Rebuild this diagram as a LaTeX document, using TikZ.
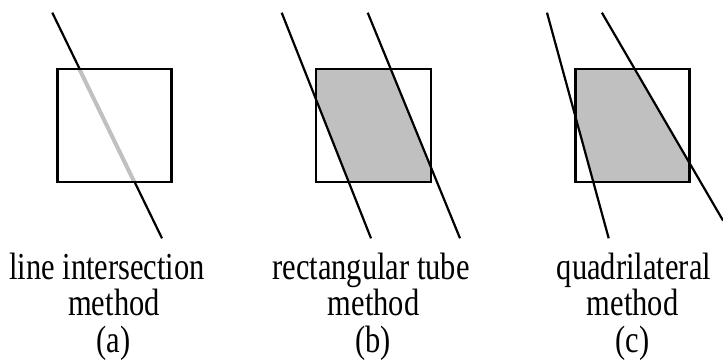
\documentclass[tikz,border=0pt]{standalone}
\usepackage{graphicx}
\usepackage{fontspec}
\setmainfont{Liberation Serif}
\definecolor{shadegray}{RGB}{192,192,192}
\newcommand{\tallx}[1]{\scalebox{1}[1.25]{#1}}
\begin{document}
\begin{tikzpicture}[x=1pt,y=-1pt]
\useasboundingbox (0,0) rectangle (723,361);
\tikzset{
  sq/.style={draw=black, line width=2.5pt},
  ln/.style={draw=black, line width=2.2pt},
  lbl/.style={font=\fontsize{30.5}{37}\selectfont, anchor=base, inner sep=0pt}
}
% panel (a)
\draw[ln] (52.3,12.7) -- (162,238.3);
\draw[shadegray, line width=4pt] (79.3,69) -- (134.3,182);
\draw[sq] (57.5,69) rectangle (171.5,182);
% panel (b)
\begin{scope}
\clip (316,69) rectangle (431,182);
\fill[shadegray] (281.7,12.7) -- (367.7,12.7) -- (460,238.3) -- (371,238.3) -- cycle;
\end{scope}
\draw[sq] (316,69) rectangle (431,182);
\draw[ln] (281.7,12.7) -- (371,238.3);
\draw[ln] (367.7,12.7) -- (460,238.3);
% panel (c)
\begin{scope}
\clip (575.5,69) rectangle (689.5,182);
\fill[shadegray] (547,12.7) -- (601.9,12.7) -- (723,220.5) -- (608.7,238.3) -- cycle;
\end{scope}
\draw[sq] (575.5,69) rectangle (689.5,182);
\draw[ln] (547,12.7) -- (608.7,238.3);
\draw[ln] (601.9,12.7) -- (723,220.5);
% labels
\node[lbl] (a1) at (107,279) {\tallx{line intersection}};
\node[lbl] (a2) at (114,315.5) {\tallx{method}};
\node[lbl] (a3) at (113.5,352) {\tallx{(a)}};
\node[lbl] (b1) at (371,279) {\tallx{rectangular tube}};
\node[lbl] (b2) at (373.5,315.5) {\tallx{method}};
\node[lbl] (b3) at (373,352) {\tallx{(b)}};
\node[lbl] (c1) at (634,279) {\tallx{quadrilateral}};
\node[lbl] (c2) at (632.5,315.5) {\tallx{method}};
\node[lbl] (c3) at (632.5,352) {\tallx{(c)}};
\end{tikzpicture}
\end{document}
